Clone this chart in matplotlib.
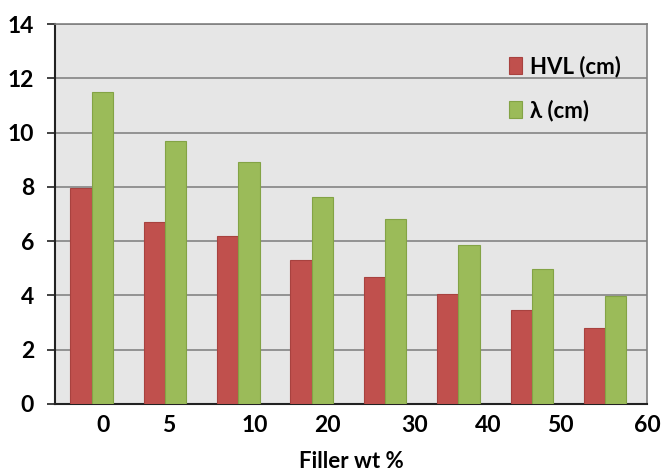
import matplotlib
matplotlib.use("Agg")
import matplotlib.pyplot as plt
import numpy as np

plt.rcParams['font.family'] = ['Lato', 'DejaVu Sans']
plt.rcParams['font.weight'] = 'bold'

filler = ["0", "5", "10", "20", "30", "40", "50", "60"]
hvl = [7.95, 6.72, 6.20, 5.31, 4.69, 4.05, 3.45, 2.80]
lam = [11.5, 9.69, 8.93, 7.64, 6.80, 5.86, 4.97, 3.99]
label_pos = [0.15, 1.05, 2.23, 3.22, 4.40, 5.40, 6.39, 7.57]

fig = plt.figure(figsize=(6.67, 4.73), dpi=100)
ax = fig.add_axes([0.0825, 0.146, 0.8875, 0.803])
ax.set_facecolor('#E6E6E6')

x = np.arange(len(filler))
w = 0.29
ax.bar(x - w / 2, hvl, w, color='#C0504D', edgecolor='#A8423F', linewidth=0.8,
       label='HVL (cm)', zorder=3)
ax.bar(x + w / 2, lam, w, color='#9BBB59', edgecolor='#83A345', linewidth=0.8,
       label='λ (cm)', zorder=3)

ax.set_xlim(-0.5, 7.5)
ax.set_ylim(0, 14)
ax.set_yticks(np.arange(0, 15, 2))
ax.yaxis.grid(True, color='#8C8C8C', linewidth=1.3, zorder=0)
ax.set_axisbelow(True)

ax.set_xticks(label_pos)
ax.set_xticklabels(filler)
ax.tick_params(axis='x', length=0, pad=8, labelsize=16.5)
ax.tick_params(axis='y', length=6, width=1.3, pad=9, labelsize=16.5, color='#333333')

for s in ['top', 'right']:
    ax.spines[s].set_color('#808080')
    ax.spines[s].set_linewidth(1.2)
for s in ['left', 'bottom']:
    ax.spines[s].set_color('#222222')
    ax.spines[s].set_linewidth(1.5)

ax.set_xlabel('Filler wt %', fontsize=16, fontweight='bold', labelpad=11)

leg = ax.legend(loc='upper right', bbox_to_anchor=(0.99, 0.97), frameon=False,
                fontsize=16, handlelength=0.6, handleheight=0.8,
                handletextpad=0.35, labelspacing=1.0)

fig.savefig('out.png', dpi=100)
